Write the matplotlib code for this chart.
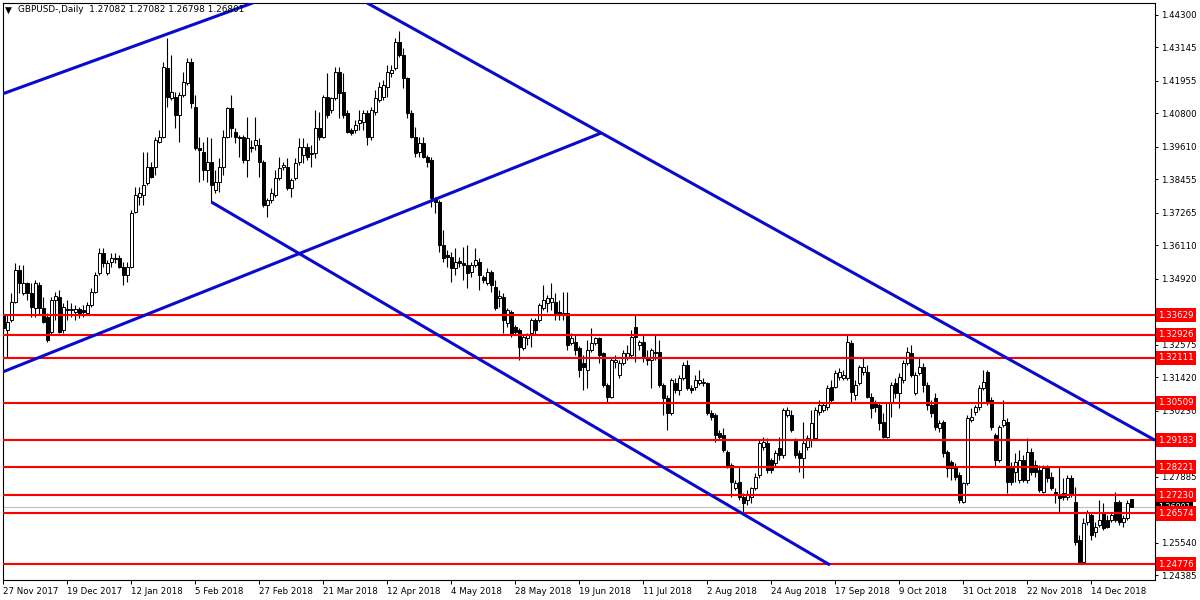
import numpy as np
import matplotlib.pyplot as plt

plt.rcParams['font.family'] = 'DejaVu Sans'
plt.rcParams['font.size'] = 6.2

# GBPUSD daily, bar 0 = 27 Nov 2017
opens = [
    1.3363, 1.3310, 1.3345, 1.3409, 1.3523, 1.3442, 1.3477, 1.3442, 1.3388, 1.3470,
    1.3388, 1.3356, 1.3303, 1.3417, 1.3427, 1.3310, 1.3385, 1.3381, 1.3374, 1.3385,
    1.3381, 1.3370, 1.3399, 1.3445, 1.3513, 1.3584, 1.3513, 1.3552, 1.3566, 1.3566,
    1.3534, 1.3506, 1.3534, 1.3729, 1.3783, 1.3790, 1.3833, 1.3890, 1.3890, 1.3978,
    1.3996, 1.4241, 1.4135, 1.4138, 1.4074, 1.4145, 1.4188, 1.4263, 1.4103, 1.3957,
    1.3943, 1.3879, 1.3907, 1.3808, 1.3836, 1.3890, 1.3996, 1.4099, 1.4014, 1.3996,
    1.3996, 1.3914, 1.3961, 1.3968, 1.3968, 1.3907, 1.3754, 1.3772, 1.3790, 1.3850,
    1.3890, 1.3890, 1.3815, 1.3850, 1.3907, 1.3932, 1.3961, 1.3939, 1.3939, 1.4028,
    1.3996, 1.4138, 1.4092, 1.4135, 1.4227, 1.4156, 1.4081, 1.4021, 1.4021, 1.4046,
    1.4050, 1.4081, 1.3996, 1.4085, 1.4128, 1.4138, 1.4174, 1.4224, 1.4241, 1.4334,
    1.4288, 1.4206, 1.4081, 1.3996, 1.3943, 1.3975, 1.3925, 1.3914, 1.3779, 1.3765,
    1.3612, 1.3577, 1.3569, 1.3530, 1.3555, 1.3548, 1.3541, 1.3516, 1.3541, 1.3552,
    1.3498, 1.3477, 1.3516, 1.3463, 1.3424, 1.3427, 1.3335, 1.3374, 1.3321, 1.3310,
    1.3246, 1.3282, 1.3299, 1.3345, 1.3345, 1.3388, 1.3406, 1.3409, 1.3409, 1.3374,
    1.3370, 1.3370, 1.3264, 1.3267, 1.3246, 1.3192, 1.3168, 1.3239, 1.3264, 1.3282,
    1.3228, 1.3114, 1.3072, 1.3196, 1.3150, 1.3192, 1.3214, 1.3221, 1.3321, 1.3257,
    1.3267, 1.3207, 1.3203, 1.3228, 1.3232, 1.3114, 1.3068, 1.3015, 1.3121, 1.3097,
    1.3139, 1.3185, 1.3104, 1.3107, 1.3121, 1.3121, 1.3121, 1.3015, 1.3008, 1.2944,
    1.2937, 1.2876, 1.2830, 1.2748, 1.2769, 1.2716, 1.2705, 1.2716, 1.2748, 1.2794,
    1.2894, 1.2908, 1.2847, 1.2837, 1.2890, 1.2865, 1.3008, 1.3008, 1.2919, 1.2872,
    1.2855, 1.2894, 1.2919, 1.2926, 1.3018, 1.3025, 1.3036, 1.3107, 1.3107, 1.3143,
    1.3139, 1.3139, 1.3264, 1.3079, 1.3121, 1.3161, 1.3161, 1.3072, 1.3050, 1.3043,
    1.2983, 1.2930, 1.3050, 1.3121, 1.3086, 1.3132, 1.3192, 1.3228, 1.3086, 1.3157,
    1.3178, 1.3114, 1.3043, 1.3068, 1.2961, 1.2983, 1.2876, 1.2840, 1.2819, 1.2794,
    1.2698, 1.2766, 1.2990, 1.3018, 1.3036, 1.3104, 1.3161, 1.3061, 1.2937, 1.2847,
    1.2972, 1.2983, 1.2819, 1.2805, 1.2777, 1.2847, 1.2777, 1.2876, 1.2830, 1.2812,
    1.2734, 1.2819, 1.2787, 1.2734, 1.2723, 1.2730, 1.2716, 1.2784, 1.2698, 1.2563,
    1.2485, 1.2627, 1.2652, 1.2591, 1.2616, 1.2659, 1.2634, 1.2634, 1.2698, 1.2698,
    1.2627, 1.2641, 1.27082,
]
highs = [
    1.3374, 1.3363, 1.3442, 1.3548, 1.3541, 1.3541, 1.3481, 1.3477, 1.3488, 1.3481,
    1.3427, 1.3370, 1.3427, 1.3445, 1.3452, 1.3406, 1.3417, 1.3406, 1.3399, 1.3392,
    1.3399, 1.3409, 1.3459, 1.3516, 1.3601, 1.3601, 1.3559, 1.3584, 1.3584, 1.3577,
    1.3552, 1.3552, 1.3737, 1.3818, 1.3818, 1.3943, 1.3943, 1.3907, 1.3996, 1.4021,
    1.4263, 1.4348, 1.4288, 1.4156, 1.4156, 1.4227, 1.4277, 1.4277, 1.4145, 1.3996,
    1.3978, 1.3996, 1.3992, 1.3879, 1.3921, 1.4021, 1.4103, 1.4145, 1.4028, 1.4003,
    1.4003, 1.4067, 1.3985, 1.4067, 1.3992, 1.3914, 1.3779, 1.3815, 1.3879, 1.3925,
    1.3907, 1.3921, 1.3850, 1.3921, 1.3992, 1.3992, 1.3975, 1.3968, 1.4092, 1.4085,
    1.4145, 1.4224, 1.4138, 1.4245, 1.4245, 1.4224, 1.4092, 1.4028, 1.4057, 1.4092,
    1.4092, 1.4092, 1.4103, 1.4163, 1.4192, 1.4199, 1.4252, 1.4252, 1.4348, 1.4373,
    1.4313, 1.4210, 1.4092, 1.4032, 1.3996, 1.3996, 1.3932, 1.3925, 1.3783, 1.3772,
    1.3665, 1.3594, 1.3587, 1.3601, 1.3569, 1.3605, 1.3612, 1.3552, 1.3601, 1.3566,
    1.3506, 1.3530, 1.3523, 1.3488, 1.3452, 1.3442, 1.3388, 1.3381, 1.3328, 1.3317,
    1.3292, 1.3299, 1.3353, 1.3353, 1.3406, 1.3470, 1.3434, 1.3477, 1.3442, 1.3417,
    1.3445, 1.3445, 1.3299, 1.3292, 1.3253, 1.3221, 1.3274, 1.3317, 1.3285, 1.3285,
    1.3232, 1.3121, 1.3210, 1.3221, 1.3203, 1.3239, 1.3257, 1.3310, 1.3363, 1.3274,
    1.3292, 1.3239, 1.3246, 1.3292, 1.3274, 1.3121, 1.3079, 1.3139, 1.3139, 1.3150,
    1.3196, 1.3203, 1.3114, 1.3150, 1.3168, 1.3139, 1.3125, 1.3025, 1.3015, 1.2954,
    1.2961, 1.2883, 1.2837, 1.2777, 1.2823, 1.2730, 1.2741, 1.2752, 1.2801, 1.2919,
    1.2930, 1.2926, 1.2855, 1.2883, 1.2930, 1.3033, 1.3036, 1.3025, 1.2926, 1.2883,
    1.2983, 1.2937, 1.3025, 1.3036, 1.3061, 1.3054, 1.3114, 1.3132, 1.3168, 1.3175,
    1.3168, 1.3292, 1.3274, 1.3132, 1.3185, 1.3214, 1.3185, 1.3086, 1.3061, 1.3050,
    1.3015, 1.3054, 1.3125, 1.3139, 1.3157, 1.3203, 1.3250, 1.3257, 1.3161, 1.3210,
    1.3192, 1.3125, 1.3061, 1.3086, 1.2990, 1.2990, 1.2883, 1.2847, 1.2837, 1.2805,
    1.2769, 1.3008, 1.3033, 1.3043, 1.3114, 1.3168, 1.3168, 1.3072, 1.2944, 1.2972,
    1.3061, 1.2997, 1.2840, 1.2872, 1.2883, 1.2865, 1.2926, 1.2890, 1.2847, 1.2830,
    1.2830, 1.2830, 1.2805, 1.2748, 1.2823, 1.2784, 1.2794, 1.2794, 1.2752, 1.2581,
    1.2641, 1.2670, 1.2663, 1.2627, 1.2705, 1.2694, 1.2652, 1.2663, 1.2734, 1.2705,
    1.2652, 1.2705, 1.27082,
]
lows = [
    1.3303, 1.3214, 1.3338, 1.3406, 1.3442, 1.3434, 1.3417, 1.3356, 1.3356, 1.3363,
    1.3335, 1.3267, 1.3292, 1.3345, 1.3299, 1.3299, 1.3345, 1.3356, 1.3345, 1.3353,
    1.3356, 1.3363, 1.3392, 1.3442, 1.3506, 1.3534, 1.3506, 1.3534, 1.3548, 1.3530,
    1.3470, 1.3481, 1.3530, 1.3726, 1.3754, 1.3754, 1.3825, 1.3850, 1.3861, 1.3975,
    1.3992, 1.4103, 1.4128, 1.4028, 1.3978, 1.4138, 1.4181, 1.4099, 1.3950, 1.3836,
    1.3843, 1.3836, 1.3765, 1.3797, 1.3801, 1.3861, 1.3992, 1.3996, 1.3975, 1.3925,
    1.3904, 1.3854, 1.3943, 1.3950, 1.3854, 1.3747, 1.3712, 1.3761, 1.3783, 1.3843,
    1.3879, 1.3808, 1.3783, 1.3843, 1.3897, 1.3904, 1.3914, 1.3890, 1.3921, 1.3985,
    1.3992, 1.4064, 1.4081, 1.4128, 1.4064, 1.4064, 1.4010, 1.4003, 1.4010, 1.4021,
    1.4021, 1.3968, 1.3985, 1.4074, 1.4121, 1.4128, 1.4138, 1.4210, 1.4234, 1.4281,
    1.4170, 1.4064, 1.3992, 1.3925, 1.3925, 1.3921, 1.3890, 1.3747, 1.3726, 1.3587,
    1.3552, 1.3534, 1.3481, 1.3506, 1.3534, 1.3488, 1.3459, 1.3498, 1.3534, 1.3452,
    1.3477, 1.3470, 1.3445, 1.3381, 1.3392, 1.3299, 1.3321, 1.3285, 1.3292, 1.3203,
    1.3239, 1.3257, 1.3250, 1.3292, 1.3338, 1.3381, 1.3374, 1.3381, 1.3345, 1.3345,
    1.3345, 1.3239, 1.3257, 1.3221, 1.3143, 1.3097, 1.3104, 1.3232, 1.3257, 1.3192,
    1.3107, 1.3050, 1.3068, 1.3175, 1.3139, 1.3185, 1.3203, 1.3214, 1.3196, 1.3239,
    1.3196, 1.3185, 1.3104, 1.3203, 1.3107, 1.3008, 1.2954, 1.3008, 1.3086, 1.3079,
    1.3132, 1.3097, 1.3086, 1.3097, 1.3114, 1.3111, 1.3008, 1.2990, 1.2911, 1.2919,
    1.2876, 1.2819, 1.2716, 1.2741, 1.2705, 1.2659, 1.2687, 1.2694, 1.2741, 1.2784,
    1.2883, 1.2801, 1.2801, 1.2823, 1.2847, 1.2855, 1.3001, 1.2947, 1.2855, 1.2805,
    1.2784, 1.2883, 1.2894, 1.2919, 1.3008, 1.3018, 1.3025, 1.3054, 1.3104, 1.3132,
    1.3132, 1.3132, 1.3054, 1.3061, 1.3114, 1.3150, 1.3068, 1.2997, 1.3018, 1.2954,
    1.2926, 1.2926, 1.3001, 1.3068, 1.3033, 1.3121, 1.3185, 1.3143, 1.3079, 1.3150,
    1.3089, 1.3025, 1.3001, 1.2954, 1.2947, 1.2858, 1.2787, 1.2777, 1.2777, 1.2694,
    1.2694, 1.2759, 1.2983, 1.3008, 1.3025, 1.3097, 1.3043, 1.2954, 1.2823, 1.2840,
    1.2965, 1.2730, 1.2759, 1.2769, 1.2766, 1.2769, 1.2766, 1.2794, 1.2787, 1.2734,
    1.2730, 1.2769, 1.2741, 1.2694, 1.2659, 1.2705, 1.2705, 1.2716, 1.2545, 1.2481,
    1.2481, 1.2616, 1.2563, 1.2574, 1.2609, 1.2599, 1.2606, 1.2627, 1.2627, 1.2616,
    1.2609, 1.2634, 1.26798,
]
closes = [
    1.3317, 1.3338, 1.3409, 1.3523, 1.3477, 1.3477, 1.3442, 1.3392, 1.3477, 1.3388,
    1.3338, 1.3274, 1.3417, 1.3431, 1.3303, 1.3392, 1.3381, 1.3385, 1.3385, 1.3363,
    1.3374, 1.3399, 1.3445, 1.3506, 1.3584, 1.3548, 1.3548, 1.3566, 1.3562, 1.3534,
    1.3506, 1.3534, 1.3726, 1.3790, 1.3797, 1.3825, 1.3890, 1.3854, 1.3985, 1.3996,
    1.4245, 1.4138, 1.4156, 1.4074, 1.4145, 1.4192, 1.4263, 1.4117, 1.3957, 1.3950,
    1.3879, 1.3907, 1.3825, 1.3836, 1.3890, 1.3996, 1.4099, 1.4028, 1.3996, 1.3992,
    1.3914, 1.3992, 1.3957, 1.3985, 1.3907, 1.3754, 1.3772, 1.3797, 1.3850, 1.3886,
    1.3897, 1.3815, 1.3843, 1.3904, 1.3961, 1.3961, 1.3925, 1.3936, 1.4028, 1.3996,
    1.4138, 1.4074, 1.4135, 1.4227, 1.4153, 1.4074, 1.4014, 1.4010, 1.4039, 1.4057,
    1.4081, 1.3996, 1.4092, 1.4135, 1.4174, 1.4181, 1.4227, 1.4234, 1.4334, 1.4288,
    1.4206, 1.4081, 1.3996, 1.3939, 1.3975, 1.3925, 1.3907, 1.3779, 1.3765, 1.3612,
    1.3566, 1.3569, 1.3530, 1.3552, 1.3548, 1.3541, 1.3513, 1.3541, 1.3559, 1.3506,
    1.3488, 1.3516, 1.3470, 1.3388, 1.3431, 1.3345, 1.3381, 1.3292, 1.3303, 1.3250,
    1.3285, 1.3292, 1.3345, 1.3310, 1.3399, 1.3417, 1.3424, 1.3424, 1.3370, 1.3370,
    1.3363, 1.3257, 1.3282, 1.3239, 1.3168, 1.3178, 1.3239, 1.3264, 1.3282, 1.3221,
    1.3114, 1.3072, 1.3203, 1.3203, 1.3192, 1.3228, 1.3228, 1.3285, 1.3285, 1.3267,
    1.3214, 1.3203, 1.3239, 1.3232, 1.3114, 1.3068, 1.3015, 1.3132, 1.3097, 1.3139,
    1.3185, 1.3104, 1.3097, 1.3132, 1.3132, 1.3125, 1.3015, 1.3001, 1.2937, 1.2930,
    1.2883, 1.2823, 1.2769, 1.2766, 1.2716, 1.2694, 1.2723, 1.2748, 1.2787, 1.2908,
    1.2911, 1.2812, 1.2812, 1.2872, 1.2865, 1.3025, 1.3025, 1.2954, 1.2865, 1.2855,
    1.2908, 1.2926, 1.2979, 1.3025, 1.3043, 1.3043, 1.3104, 1.3061, 1.3157, 1.3161,
    1.3150, 1.3267, 1.3089, 1.3114, 1.3178, 1.3178, 1.3072, 1.3033, 1.3036, 1.2979,
    1.2930, 1.3050, 1.3114, 1.3086, 1.3143, 1.3192, 1.3232, 1.3150, 1.3150, 1.3178,
    1.3114, 1.3043, 1.3015, 1.2965, 1.2979, 1.2872, 1.2819, 1.2819, 1.2787, 1.2705,
    1.2766, 1.2997, 1.3001, 1.3036, 1.3104, 1.3125, 1.3054, 1.2965, 1.2847, 1.2965,
    1.2990, 1.2769, 1.2769, 1.2840, 1.2847, 1.2777, 1.2876, 1.2805, 1.2805, 1.2741,
    1.2819, 1.2784, 1.2748, 1.2723, 1.2712, 1.2716, 1.2784, 1.2723, 1.2556, 1.2485,
    1.2623, 1.2659, 1.2581, 1.2609, 1.2634, 1.2606, 1.2609, 1.2652, 1.2634, 1.2627,
    1.2641, 1.2694, 1.26801,
]

date_labels = ["27 Nov 2017", "19 Dec 2017", "12 Jan 2018", "5 Feb 2018", "27 Feb 2018",
               "21 Mar 2018", "12 Apr 2018", "4 May 2018", "28 May 2018", "19 Jun 2018",
               "11 Jul 2018", "2 Aug 2018", "24 Aug 2018", "17 Sep 2018", "9 Oct 2018",
               "31 Oct 2018", "22 Nov 2018", "14 Dec 2018"]
# price scale labels that are not hidden by the level boxes
price_ticks = [1.44300, 1.43145, 1.41955, 1.40800, 1.39610, 1.38455, 1.37265, 1.36110,
               1.34920, 1.32575, 1.31420, 1.30230, 1.29075, 1.27885, 1.25540, 1.24385]
levels = [1.33629, 1.32926, 1.32111, 1.30509, 1.29183, 1.28221, 1.27230, 1.26574, 1.24776]

# trendline anchors: (bar, price) -> (bar, price)
trend_start_bar = [-0.08, -0.08, 90.9, 52.0]
trend_start_price = [1.4150, 1.3161, 1.4473, 1.3765]
trend_end_bar = [62.4, 149.4, 287.9, 206.7]
trend_end_price = [1.4473, 1.4010, 1.2918, 1.2474]

o = np.array(opens)
h = np.array(highs)
l = np.array(lows)
c = np.array(closes)
x = np.arange(len(o))
up = c >= o
last = c[-1]

fig = plt.figure(figsize=(12, 6), dpi=100)
ax = fig.add_axes([3/1200, 20/600, 1152/1200, 577/600])
ax.set_xlim(-0.08, 287.92)
ax.set_ylim(1.24208, 1.44726)

ax.axhline(last, color='#c0c0c0', lw=0.8, zorder=1)

# candles
ax.vlines(x, np.minimum(l, np.minimum(o, c)), np.maximum(h, np.maximum(o, c)),
          color='black', lw=0.8, zorder=3)
body = np.maximum(np.abs(c - o), 0.00008)
bottom = np.minimum(o, c)
ax.bar(x[up], body[up], bottom=bottom[up], width=0.7, facecolor='white',
       edgecolor='black', linewidth=0.7, zorder=4)
ax.bar(x[~up], body[~up], bottom=bottom[~up], width=0.7, facecolor='black',
       edgecolor='black', linewidth=0.7, zorder=4)

for lv in levels:
    ax.axhline(lv, color='#ff0000', lw=1.5, zorder=5)

for i in range(len(trend_start_bar)):
    ax.plot([trend_start_bar[i], trend_end_bar[i]], [trend_start_price[i], trend_end_price[i]],
            color='#0a0acd', lw=2.2, solid_capstyle='butt', zorder=6)

# axes / ticks
ax.set_xticks(np.arange(len(date_labels)) * 16)
ax.set_xticklabels(date_labels, ha='left')
ax.tick_params(axis='x', direction='out', length=3, width=0.7, pad=2)
ax.yaxis.tick_right()
ax.set_yticks(price_ticks)
ax.set_yticklabels([f'{t:.5f}' for t in price_ticks])
ax.tick_params(axis='y', direction='out', length=2.5, width=0.7, pad=2)
for sp in ax.spines.values():
    sp.set_linewidth(0.8)
    sp.set_color('black')

tr = ax.get_yaxis_transform()
ax.text(1.0028, last, f'{last:.5f}', transform=tr, ha='left', va='center', color='white',
        fontsize=5.8, bbox=dict(boxstyle='square,pad=0.25', fc='black', ec='none'),
        zorder=9, clip_on=False)
for lv in levels:
    ax.text(1.0028, lv, f'{lv:.5f}', transform=tr, ha='left', va='center', color='white',
            bbox=dict(boxstyle='square,pad=0.3', fc='#ff0000', ec='none'), zorder=10, clip_on=False)

fig.text(5/1200, 1 - 10/600, '\u25bc', fontsize=6.5, va='center', ha='left')
fig.text(18/1200, 1 - 10/600,
         f'GBPUSD-,Daily  {o[-1]:.5f} {h[-1]:.5f} {l[-1]:.5f} {c[-1]:.5f}',
         fontsize=6.4, va='center', ha='left')

fig.savefig('out.png', dpi=100)
